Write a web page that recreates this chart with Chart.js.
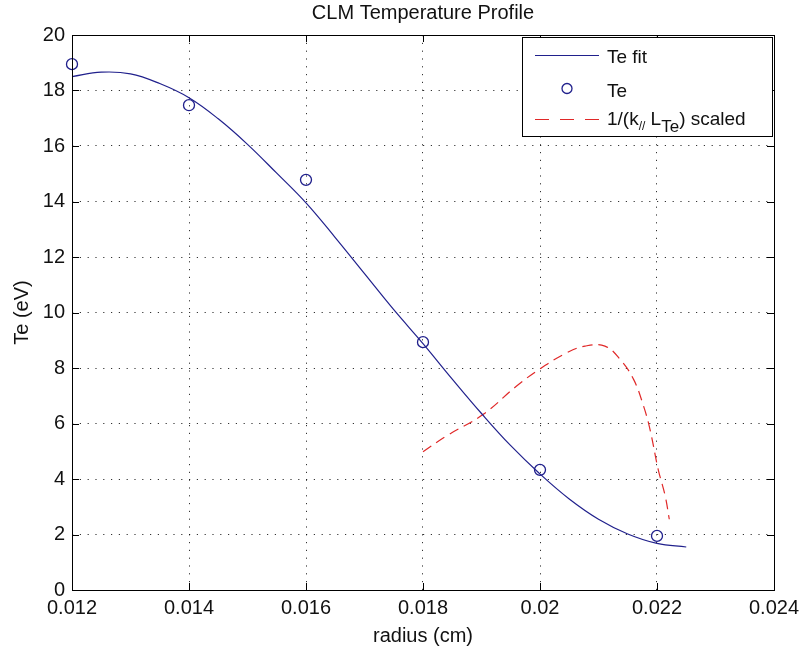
<!DOCTYPE html>
<html>
<head>
<meta charset="utf-8">
<title>CLM Temperature Profile</title>
<script src="https://cdn.jsdelivr.net/npm/chart.js@4.4.0/dist/chart.umd.min.js"></script>
<style>
  html, body { margin: 0; padding: 0; background: #fff; }
  #wrap { width: 799px; height: 654px; }
</style>
</head>
<body>
<div id="wrap"><canvas id="profile" width="799" height="654"></canvas></div>
<script>
// Te fit curve: radius (cm) vs Te (eV)
const fitRadius = [0.0120, 0.0125, 0.0130, 0.0135, 0.0140, 0.0145, 0.0150, 0.0155,
                   0.0160, 0.0165, 0.0170, 0.0175, 0.0180, 0.0185, 0.0190, 0.0195,
                   0.0200, 0.0205, 0.0210, 0.0215, 0.0220, 0.0225];
const fitTe = [18.50, 18.66, 18.60, 18.25, 17.74, 16.98, 16.06, 15.02,
               13.95, 12.70, 11.40, 10.10, 8.88, 7.60, 6.36, 5.20,
               4.18, 3.28, 2.55, 2.02, 1.68, 1.55];

// measured Te
const measRadius = [0.012, 0.014, 0.016, 0.018, 0.020, 0.022];
const measTe = [18.95, 17.47, 14.78, 8.93, 4.33, 1.95];

// 1/(k_// L_Te), scaled onto the Te axis
const gradRadius = [0.01800, 0.01840, 0.01903, 0.01960, 0.02000, 0.02046, 0.02077,
                    0.02111, 0.02137, 0.02160, 0.02177, 0.02188, 0.02202, 0.02214, 0.02221];
const gradScaled = [4.98, 5.55, 6.33, 7.35, 7.97, 8.55, 8.79,
                    8.79, 8.31, 7.59, 6.63, 5.79, 4.35, 3.39, 2.55];

const xTickValues = [0.012, 0.014, 0.016, 0.018, 0.020, 0.022, 0.024];
const xTickLabels = ['0.012', '0.014', '0.016', '0.018', '0.02', '0.022', '0.024'];
const yTickValues = [0, 2, 4, 6, 8, 10, 12, 14, 16, 18, 20];
const yTickLabels = ['0', '2', '4', '6', '8', '10', '12', '14', '16', '18', '20'];

const BLUE = '#20208c';
const RED = '#e02828';
const INK = '#111';
const FONT = '"Liberation Sans", Arial, sans-serif';

Chart.defaults.font.family = FONT;
Chart.defaults.color = INK;

function toPoints(xs, ys) {
  return xs.map((x, i) => ({ x: x, y: ys[i] }));
}

// box around the axes plus inward tick marks on all four sides
const axesBox = {
  id: 'axesBox',
  afterDatasetsDraw(chart) {
    const { ctx, chartArea: a, scales } = chart;
    const len = 7;
    ctx.save();
    ctx.strokeStyle = '#000';
    ctx.lineWidth = 1;
    ctx.beginPath();
    xTickValues.forEach(v => {
      const px = Math.round(scales.x.getPixelForValue(v)) + 0.5;
      ctx.moveTo(px, a.bottom); ctx.lineTo(px, a.bottom - len);
      ctx.moveTo(px, a.top); ctx.lineTo(px, a.top + len);
    });
    yTickValues.forEach(v => {
      const py = Math.round(scales.y.getPixelForValue(v)) + 0.5;
      ctx.moveTo(a.left, py); ctx.lineTo(a.left + len, py);
      ctx.moveTo(a.right, py); ctx.lineTo(a.right - len, py);
    });
    ctx.stroke();
    ctx.strokeRect(Math.round(a.left) + 0.5, Math.round(a.top) + 0.5,
                   Math.round(a.right - a.left), Math.round(a.bottom - a.top));
    ctx.restore();
  }
};

// legend box in the upper right, with the subscripted third label
const legendBox = {
  id: 'legendBox',
  afterDraw(chart) {
    const { ctx } = chart;
    const box = { left: 522.5, top: 37.5, right: 772.5, bottom: 136.5 };
    const lineX0 = 535, lineX1 = 599, textX = 607;
    ctx.save();
    ctx.fillStyle = '#fff';
    ctx.fillRect(box.left, box.top, box.right - box.left, box.bottom - box.top);
    ctx.strokeStyle = '#000';
    ctx.lineWidth = 1;
    ctx.strokeRect(box.left, box.top, box.right - box.left, box.bottom - box.top);

    // Te fit
    ctx.strokeStyle = BLUE;
    ctx.lineWidth = 1.2;
    ctx.beginPath();
    ctx.moveTo(lineX0, 55.5); ctx.lineTo(lineX1, 55.5);
    ctx.stroke();

    // Te
    ctx.beginPath();
    ctx.lineWidth = 1.3;
    ctx.arc(567, 88.5, 5, 0, Math.PI * 2);
    ctx.stroke();

    // scaled 1/(k L)
    ctx.strokeStyle = RED;
    ctx.lineWidth = 1.2;
    ctx.setLineDash([14, 11]);
    ctx.beginPath();
    ctx.moveTo(lineX0, 119.5); ctx.lineTo(lineX1, 119.5);
    ctx.stroke();
    ctx.setLineDash([]);

    ctx.fillStyle = INK;
    ctx.textBaseline = 'alphabetic';
    ctx.textAlign = 'left';
    ctx.font = '19px ' + FONT;
    ctx.fillText('Te fit', textX, 62.5);
    ctx.fillText('Te', textX, 96.5);

    let x = textX;
    const base = 125;
    const piece = (txt, size, dy) => {
      ctx.font = size + 'px ' + FONT;
      ctx.fillText(txt, x, base + dy);
      x += ctx.measureText(txt).width;
    };
    piece('1/(k', 19, 0);
    piece('//', 12, 5);
    piece(' L', 19, 0);
    piece('Te', 17, 7);
    piece(') scaled', 19, 0);
    ctx.restore();
  }
};

new Chart(document.getElementById('profile'), {
  type: 'scatter',
  data: {
    datasets: [
      {
        label: 'Te fit',
        data: toPoints(fitRadius, fitTe),
        showLine: true,
        borderColor: BLUE,
        borderWidth: 1.2,
        pointRadius: 0,
        tension: 0.4,
        fill: false
      },
      {
        label: 'Te',
        data: toPoints(measRadius, measTe),
        showLine: false,
        pointStyle: 'circle',
        pointRadius: 5.5,
        pointBorderWidth: 1.3,
        pointBorderColor: BLUE,
        pointBackgroundColor: 'rgba(0,0,0,0)',
        clip: false
      },
      {
        label: '1/(k// LTe) scaled',
        data: toPoints(gradRadius, gradScaled),
        showLine: true,
        borderColor: RED,
        borderWidth: 1.2,
        borderDash: [10, 6],
        pointRadius: 0,
        tension: 0.4,
        fill: false
      }
    ]
  },
  options: {
    responsive: false,
    devicePixelRatio: 1,
    animation: false,
    layout: { padding: { left: 0, right: 25, top: 0, bottom: 0 } },
    plugins: {
      legend: { display: false },
      tooltip: { enabled: false },
      title: {
        display: true,
        text: 'CLM Temperature Profile',
        fullSize: false,
        color: INK,
        font: { size: 20, weight: 'normal' },
        padding: { top: 1, bottom: 10 }
      }
    },
    scales: {
      x: {
        type: 'linear',
        min: 0.012,
        max: 0.024,
        afterBuildTicks: s => { s.ticks = xTickValues.map(v => ({ value: v })); },
        afterFit: s => { s.height = 64; s.paddingLeft = 0; s.paddingRight = 0; },
        ticks: {
          callback: (v, i) => xTickLabels[i],
          padding: 6,
          maxRotation: 0,
          autoSkip: false,
          color: INK,
          font: { size: 20 }
        },
        grid: { color: 'rgba(0,0,0,0.8)', lineWidth: 1, drawTicks: false },
        border: { display: false, dash: [1.2, 6.6] },
        title: {
          display: true,
          text: 'radius (cm)',
          color: INK,
          font: { size: 20 },
          padding: { top: 0, bottom: 6 }
        }
      },
      y: {
        type: 'linear',
        min: 0,
        max: 20,
        afterBuildTicks: s => { s.ticks = yTickValues.map(v => ({ value: v })); },
        afterFit: s => { s.width = 72; s.paddingTop = 0; s.paddingBottom = 0; },
        ticks: {
          callback: (v, i) => yTickLabels[i],
          padding: 7,
          autoSkip: false,
          color: INK,
          font: { size: 20 }
        },
        grid: { color: 'rgba(0,0,0,0.8)', lineWidth: 1, drawTicks: false },
        border: { display: false, dash: [1.2, 6.6] },
        title: {
          display: true,
          text: 'Te (eV)',
          color: INK,
          font: { size: 20 },
          padding: { top: 10, bottom: 0 }
        }
      }
    }
  },
  plugins: [axesBox, legendBox]
});
</script>
</body>
</html>
